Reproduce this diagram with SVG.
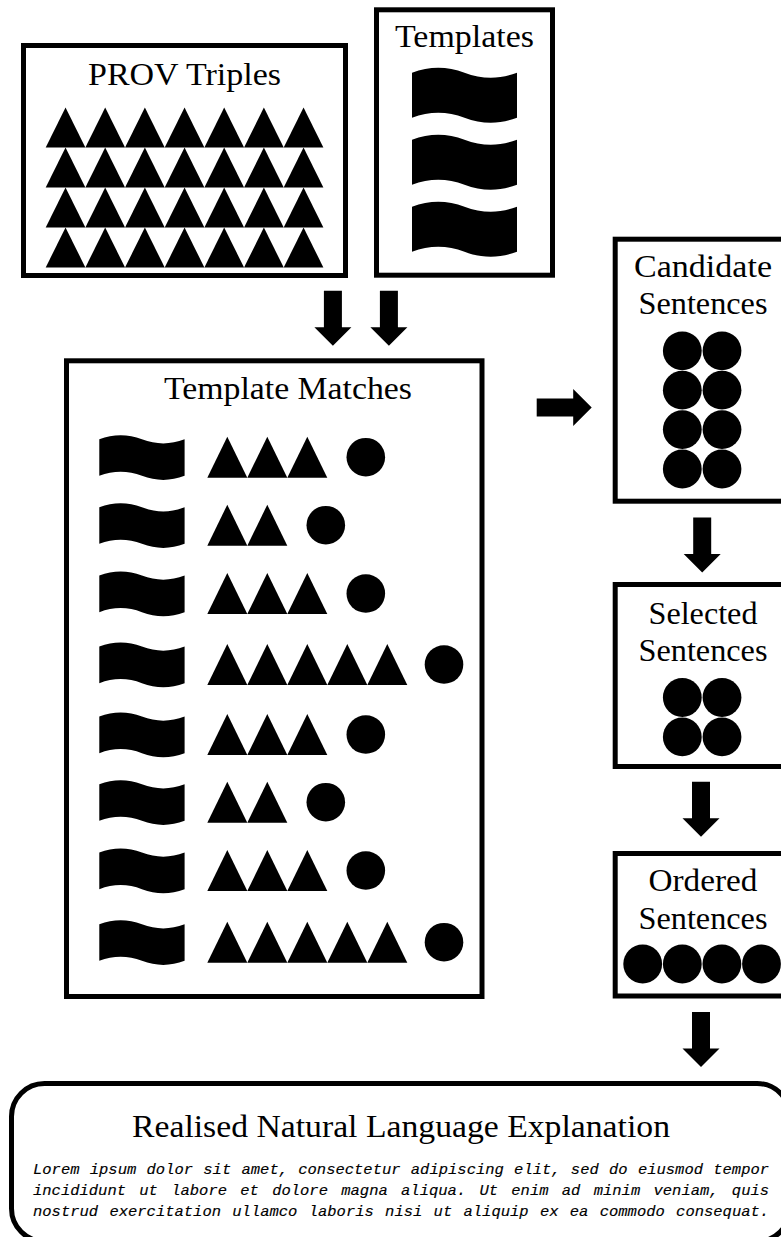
<svg xmlns="http://www.w3.org/2000/svg" xmlns:xlink="http://www.w3.org/1999/xlink" width="781" height="1237" viewBox="0 0 781 1237">
  <style>
    .box { fill: #fff; stroke: #000; stroke-width: 5; }
    .ink { fill: #000; }
    .label { font-family: "Liberation Serif", "DejaVu Serif", serif; font-size: 31px; fill: #000; text-anchor: middle; }
    .body { font-family: "Liberation Mono", "DejaVu Sans Mono", monospace; font-style: italic; font-size: 15.5px; fill: #000; stroke: #000; stroke-width: 0.15; }
  </style>
  <defs>
    <!-- template banner: 105 wide, 45 tall body with a sine-like top and bottom -->
    <path id="wave" d="M0,0 C17.5,-6.7 35,-6.7 52.5,0 C70,6.7 87.5,6.7 105,0 L105,45 C87.5,51.7 70,51.7 52.5,45 C35,38.3 17.5,38.3 0,45 Z"/>
    <!-- triple glyphs, base-left corner at origin -->
    <path id="triSmall" d="M0,0 L19.83,-40 L39.67,0 Z"/>
    <path id="tri" d="M0,0 L20,-41 L40,0 Z"/>
    <!-- block arrow pointing down, top-centre at origin -->
    <path id="arrowDown" d="M-9,0 H9 V36.5 H18.5 L0,55 L-18.5,36.5 H-9 Z"/>
  </defs>

  <rect x="0" y="0" width="781" height="1237" fill="#fff"/>

  <!-- PROV triples -->
  <g id="prov-triples">
    <rect class="box" x="23.5" y="45.5" width="322" height="230"/>
    <text class="label" x="184.5" y="85" textLength="193" lengthAdjust="spacingAndGlyphs">PROV Triples</text>
    <g class="ink">
      <use href="#triSmall" x="45.7" y="147.5"/><use href="#triSmall" x="85.37" y="147.5"/><use href="#triSmall" x="125.04" y="147.5"/><use href="#triSmall" x="164.71" y="147.5"/><use href="#triSmall" x="204.38" y="147.5"/><use href="#triSmall" x="244.05" y="147.5"/><use href="#triSmall" x="283.72" y="147.5"/>
      <use href="#triSmall" x="45.7" y="187.5"/><use href="#triSmall" x="85.37" y="187.5"/><use href="#triSmall" x="125.04" y="187.5"/><use href="#triSmall" x="164.71" y="187.5"/><use href="#triSmall" x="204.38" y="187.5"/><use href="#triSmall" x="244.05" y="187.5"/><use href="#triSmall" x="283.72" y="187.5"/>
      <use href="#triSmall" x="45.7" y="227.5"/><use href="#triSmall" x="85.37" y="227.5"/><use href="#triSmall" x="125.04" y="227.5"/><use href="#triSmall" x="164.71" y="227.5"/><use href="#triSmall" x="204.38" y="227.5"/><use href="#triSmall" x="244.05" y="227.5"/><use href="#triSmall" x="283.72" y="227.5"/>
      <use href="#triSmall" x="45.7" y="267.5"/><use href="#triSmall" x="85.37" y="267.5"/><use href="#triSmall" x="125.04" y="267.5"/><use href="#triSmall" x="164.71" y="267.5"/><use href="#triSmall" x="204.38" y="267.5"/><use href="#triSmall" x="244.05" y="267.5"/><use href="#triSmall" x="283.72" y="267.5"/>
    </g>
  </g>

  <!-- Templates -->
  <g id="templates">
    <rect class="box" x="376.5" y="9.8" width="176" height="265.4"/>
    <text class="label" x="464.5" y="46.7" textLength="139" lengthAdjust="spacingAndGlyphs">Templates</text>
    <g class="ink">
      <use href="#wave" transform="translate(412,72.7)"/>
      <use href="#wave" transform="translate(412,139.7)"/>
      <use href="#wave" transform="translate(412,206.7)"/>
    </g>
  </g>

  <!-- Template matches: banner, matched triples, resulting sentence -->
  <g id="template-matches">
    <rect class="box" x="66.5" y="360.8" width="415.5" height="635.7"/>
    <text class="label" x="288" y="399" textLength="248" lengthAdjust="spacingAndGlyphs">Template Matches</text>
    <g class="ink">
      <!-- row 1 -->
      <use href="#wave" transform="translate(99.3,439.3) scale(0.8124)"/>
      <use href="#tri" x="207.3" y="477.7"/><use href="#tri" x="247.3" y="477.7"/><use href="#tri" x="287.3" y="477.7"/>
      <circle cx="365.8" cy="457.2" r="19.3"/>
      <!-- row 2 -->
      <use href="#wave" transform="translate(99.3,507.3) scale(0.8124)"/>
      <use href="#tri" x="207.3" y="545.7"/><use href="#tri" x="247.3" y="545.7"/>
      <circle cx="325.8" cy="525.2" r="19.3"/>
      <!-- row 3 -->
      <use href="#wave" transform="translate(99.3,575.6) scale(0.8124)"/>
      <use href="#tri" x="207.3" y="614"/><use href="#tri" x="247.3" y="614"/><use href="#tri" x="287.3" y="614"/>
      <circle cx="365.8" cy="593.5" r="19.3"/>
      <!-- row 4 -->
      <use href="#wave" transform="translate(99.3,646.6) scale(0.8124)"/>
      <use href="#tri" x="207.3" y="685"/><use href="#tri" x="247.3" y="685"/><use href="#tri" x="287.3" y="685"/><use href="#tri" x="327.3" y="685"/><use href="#tri" x="367.3" y="685"/>
      <circle cx="444" cy="664.5" r="19.3"/>
      <!-- row 5 -->
      <use href="#wave" transform="translate(99.3,716.6) scale(0.8124)"/>
      <use href="#tri" x="207.3" y="755"/><use href="#tri" x="247.3" y="755"/><use href="#tri" x="287.3" y="755"/>
      <circle cx="365.8" cy="734.5" r="19.3"/>
      <!-- row 6 -->
      <use href="#wave" transform="translate(99.3,784.3) scale(0.8124)"/>
      <use href="#tri" x="207.3" y="822.7"/><use href="#tri" x="247.3" y="822.7"/>
      <circle cx="325.8" cy="802.2" r="19.3"/>
      <!-- row 7 -->
      <use href="#wave" transform="translate(99.3,852.6) scale(0.8124)"/>
      <use href="#tri" x="207.3" y="891"/><use href="#tri" x="247.3" y="891"/><use href="#tri" x="287.3" y="891"/>
      <circle cx="365.8" cy="870.5" r="19.3"/>
      <!-- row 8 -->
      <use href="#wave" transform="translate(99.3,924.3) scale(0.8124)"/>
      <use href="#tri" x="207.3" y="962.7"/><use href="#tri" x="247.3" y="962.7"/><use href="#tri" x="287.3" y="962.7"/><use href="#tri" x="327.3" y="962.7"/><use href="#tri" x="367.3" y="962.7"/>
      <circle cx="444" cy="942.2" r="19.3"/>
    </g>
  </g>

  <!-- Candidate sentences -->
  <g id="candidate-sentences">
    <rect class="box" x="615.2" y="239.2" width="180" height="262"/>
    <text class="label" x="703" y="277.3" textLength="138" lengthAdjust="spacingAndGlyphs">Candidate</text>
    <text class="label" x="703" y="313.5" textLength="129" lengthAdjust="spacingAndGlyphs">Sentences</text>
    <g class="ink">
      <circle cx="682.3" cy="350.8" r="19.4"/><circle cx="722" cy="350.8" r="19.4"/>
      <circle cx="682.3" cy="390.2" r="19.4"/><circle cx="722" cy="390.2" r="19.4"/>
      <circle cx="682.3" cy="429.6" r="19.4"/><circle cx="722" cy="429.6" r="19.4"/>
      <circle cx="682.3" cy="469" r="19.4"/><circle cx="722" cy="469" r="19.4"/>
    </g>
  </g>

  <!-- Selected sentences -->
  <g id="selected-sentences">
    <rect class="box" x="615.2" y="584.5" width="180" height="182"/>
    <text class="label" x="703" y="624" textLength="109" lengthAdjust="spacingAndGlyphs">Selected</text>
    <text class="label" x="703" y="660.5" textLength="129" lengthAdjust="spacingAndGlyphs">Sentences</text>
    <g class="ink">
      <circle cx="682.3" cy="697.5" r="19.4"/><circle cx="722" cy="697.5" r="19.4"/>
      <circle cx="682.3" cy="736.9" r="19.4"/><circle cx="722" cy="736.9" r="19.4"/>
    </g>
  </g>

  <!-- Ordered sentences -->
  <g id="ordered-sentences">
    <rect class="box" x="615.2" y="853.5" width="180" height="142.5"/>
    <text class="label" x="703" y="890.7" textLength="109" lengthAdjust="spacingAndGlyphs">Ordered</text>
    <text class="label" x="703" y="928.5" textLength="129" lengthAdjust="spacingAndGlyphs">Sentences</text>
    <g class="ink">
      <circle cx="642.7" cy="964" r="19.4"/><circle cx="682.3" cy="964" r="19.4"/>
      <circle cx="721.9" cy="964" r="19.4"/><circle cx="761.5" cy="964" r="19.4"/>
    </g>
  </g>

  <!-- Realised explanation -->
  <g id="explanation">
    <rect class="box" x="11.5" y="1083.5" width="778.5" height="158" rx="33" ry="33"/>
    <text class="label" x="401" y="1137" textLength="538" lengthAdjust="spacingAndGlyphs">Realised Natural Language Explanation</text>
    <text class="body" x="33" y="1174" word-spacing="0.96">Lorem ipsum dolor sit amet, consectetur adipiscing elit, sed do eiusmod tempor</text>
    <text class="body" x="33" y="1195" word-spacing="3.98">incididunt ut labore et dolore magna aliqua. Ut enim ad minim veniam, quis</text>
    <text class="body" x="33" y="1216" word-spacing="1.99">nostrud exercitation ullamco laboris nisi ut aliquip ex ea commodo consequat.</text>
  </g>

  <!-- Connectors -->
  <g id="connectors" class="ink">
    <use href="#arrowDown" transform="translate(332.9,290.7)"/>
    <use href="#arrowDown" transform="translate(388.9,290.7)"/>
    <use href="#arrowDown" transform="translate(536.7,407.5) rotate(-90)"/>
    <use href="#arrowDown" transform="translate(702.2,517.5)"/>
    <use href="#arrowDown" transform="translate(701,781.7)"/>
    <use href="#arrowDown" transform="translate(701,1012)"/>
  </g>
</svg>
